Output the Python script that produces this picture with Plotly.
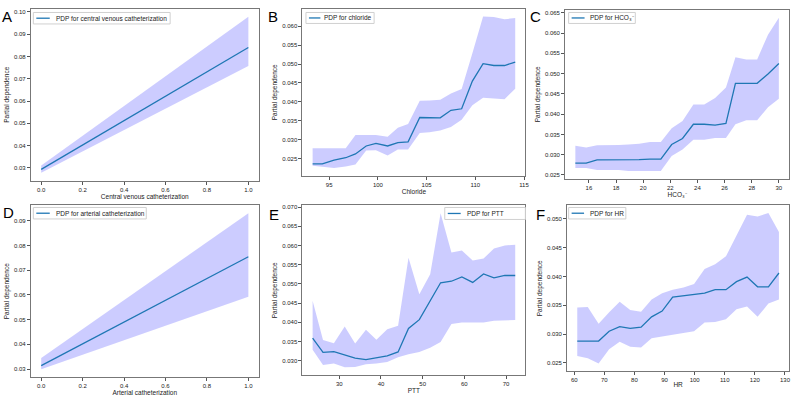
import plotly.graph_objects as go

# ---------------- data ----------------
a_x = [0.0, 1.0]
a_y = [0.0293, 0.0840]
a_lo = [0.0278, 0.0757]
a_hi = [0.0310, 0.0978]

b_x = [93.3, 94.3, 95.5, 96.7, 97.7, 98.8, 99.8, 101.0, 102.05, 103.1,
       104.3, 105.3, 106.4, 107.5, 108.6, 109.7, 110.8, 111.9, 113.0, 114.1]
b_y = [0.0237, 0.0237, 0.0247, 0.0253, 0.0263, 0.0284, 0.0291, 0.0284, 0.0293, 0.0295,
       0.0359, 0.0359, 0.0358, 0.0378, 0.0382, 0.0455, 0.0501, 0.0496, 0.0496, 0.0505]
b_hi = [0.0278, 0.0278, 0.0278, 0.0278, 0.0313, 0.0314, 0.0313, 0.0308, 0.0332, 0.0342,
        0.0403, 0.0404, 0.0406, 0.0422, 0.0434, 0.0528, 0.0625, 0.0624, 0.0618, 0.0621]
b_lo = [0.0232, 0.0230, 0.0226, 0.0230, 0.0235, 0.0272, 0.0273, 0.0259, 0.0275, 0.0275,
        0.0318, 0.0320, 0.0325, 0.0334, 0.0353, 0.0391, 0.0411, 0.0409, 0.0407, 0.0435]

c_x = [15.0, 15.8, 16.6, 17.4, 18.2, 18.9, 19.7, 20.5, 21.3, 22.1,
       22.9, 23.7, 24.5, 25.3, 26.1, 26.8, 27.6, 28.4, 29.2, 30.0]
c_y = [0.0279, 0.0279, 0.0287, 0.0287, 0.0287, 0.0287, 0.0288, 0.0289, 0.0289, 0.0325,
       0.0340, 0.0375, 0.0375, 0.0373, 0.0377, 0.0476, 0.0476, 0.0476, 0.0499, 0.0525]
c_hi = [0.0322, 0.0318, 0.0323, 0.0323, 0.0324, 0.0325, 0.0327, 0.0331, 0.0331, 0.0365,
        0.0383, 0.0424, 0.0424, 0.0440, 0.0466, 0.0540, 0.0535, 0.0535, 0.0596, 0.0638]
c_lo = [0.0267, 0.0267, 0.0262, 0.0262, 0.0262, 0.0260, 0.0260, 0.0260, 0.0260, 0.0297,
        0.0313, 0.0337, 0.0337, 0.0341, 0.0341, 0.0375, 0.0385, 0.0385, 0.0417, 0.0438]

d_x = [0.0, 1.0]
d_y = [0.0314, 0.0755]
d_lo = [0.0299, 0.0593]
d_hi = [0.0345, 0.0931]

e_x = [23.6, 26.1, 28.7, 31.3, 33.8, 36.4, 38.9, 41.5, 44.1, 46.6,
       49.2, 51.8, 54.3, 56.9, 59.4, 62.0, 64.6, 67.1, 69.7, 72.2]
e_y = [0.0359, 0.0322, 0.0324, 0.0315, 0.0307, 0.0303, 0.0307, 0.0313, 0.0323, 0.0384,
       0.0407, 0.0456, 0.0503, 0.0507, 0.0518, 0.0504, 0.0526, 0.0516, 0.0522, 0.0522]
e_hi = [0.0456, 0.0354, 0.0346, 0.0389, 0.0345, 0.0381, 0.0355, 0.0382, 0.0391, 0.0568,
        0.0473, 0.0525, 0.0684, 0.0582, 0.0587, 0.0561, 0.0566, 0.0592, 0.0600, 0.0602]
e_lo = [0.0329, 0.0289, 0.0293, 0.0283, 0.0284, 0.0291, 0.0293, 0.0297, 0.0309, 0.0317,
        0.0323, 0.0334, 0.0349, 0.0396, 0.0400, 0.0400, 0.0400, 0.0404, 0.0406, 0.0406]

f_x = [61.0, 64.5, 68.1, 71.6, 75.1, 78.6, 82.2, 85.7, 89.2, 92.7,
       96.3, 99.8, 103.3, 106.8, 110.4, 113.9, 117.4, 120.9, 124.5, 128.0]
f_y = [0.0288, 0.0288, 0.0288, 0.0305, 0.0313, 0.0310, 0.0312, 0.0330, 0.0340, 0.0364,
       0.0366, 0.0368, 0.0371, 0.0377, 0.0377, 0.0391, 0.0399, 0.0382, 0.0382, 0.0406]
f_hi = [0.0346, 0.0347, 0.0318, 0.0338, 0.0356, 0.0342, 0.0339, 0.0360, 0.0371, 0.0377,
        0.0381, 0.0387, 0.0413, 0.0421, 0.0435, 0.0470, 0.0507, 0.0504, 0.0510, 0.0477]
f_lo = [0.0262, 0.0258, 0.0249, 0.0274, 0.0287, 0.0278, 0.0277, 0.0293, 0.0296, 0.0299,
        0.0302, 0.0305, 0.0320, 0.0321, 0.0326, 0.0343, 0.0348, 0.0330, 0.0353, 0.0360]

letters = ["A", "B", "C", "D", "E", "F"]
x_titles = ["Central venous catheterization", "Chloride", "HCO₃⁻",
            "Arterial catheterization", "PTT", "HR"]
legend_names = ["PDP for central venous catheterization", "PDP for chloride", "PDP for HCO₃⁻",
                "PDP for arterial catheterization", "PDP for PTT", "PDP for HR"]
x_ticks = [[0.0, 0.2, 0.4, 0.6, 0.8, 1.0], [95, 100, 105, 110, 115], [16, 18, 20, 22, 24, 26, 28, 30],
           [0.0, 0.2, 0.4, 0.6, 0.8, 1.0], [30, 40, 50, 60, 70], [60, 70, 80, 90, 100, 110, 120, 130]]
y_ticks = [[0.03, 0.04, 0.05, 0.06, 0.07, 0.08, 0.09, 0.10],
           [0.025, 0.030, 0.035, 0.040, 0.045, 0.050, 0.055, 0.060],
           [0.025, 0.030, 0.035, 0.040, 0.045, 0.050, 0.055, 0.060, 0.065],
           [0.03, 0.04, 0.05, 0.06, 0.07, 0.08, 0.09],
           [0.030, 0.035, 0.040, 0.045, 0.050, 0.055, 0.060, 0.065, 0.070],
           [0.025, 0.030, 0.035, 0.040, 0.045, 0.050]]
x_fmt = [".1f", "d", "d", ".1f", "d", "d"]
y_fmt = [".2f", ".3f", ".3f", ".2f", ".3f", ".3f"]

panels = [(a_x, a_y, a_lo, a_hi), (b_x, b_y, b_lo, b_hi), (c_x, c_y, c_lo, c_hi),
          (d_x, d_y, d_lo, d_hi), (e_x, e_y, e_lo, e_hi), (f_x, f_y, f_lo, f_hi)]

# ---------------- layout (pixel boxes) ----------------
W, H = 800, 400
boxes = [(31, 260, 8, 180), (304, 528, 8, 175), (568, 793, 9, 178),
         (31, 260, 205, 377), (304, 528, 205, 375), (570, 793, 205, 371)]
# legend box: x0, x1, y0, y1, line x0, line x1, text x
legend_boxes = [(33.5, 171, 11.5, 23, 36.5, 50, 54),
                (307.5, 376, 11.5, 22.5, 310.5, 322, 324),
                (571.5, 638.5, 11.5, 22.5, 574.5, 587.5, 590.5),
                (33.5, 147, 207, 218.5, 36.5, 50, 54),
                (447, 528, 207, 219, 450, 463, 467),
                (571.5, 629, 207, 218.5, 574.5, 587, 590.5)]
letter_pos = [(0, 5), (267, 5), (531, 5), (1, 202), (268, 204), (537, 204)]

FONT = "Liberation Sans, Arial, sans-serif"
LINE = "#1f77b4"
FILL = "rgba(0,0,255,0.2)"

fig = go.Figure()
layout = dict(width=W, height=H, margin=dict(l=0, r=0, t=0, b=0),
              paper_bgcolor="white", plot_bgcolor="white",
              font=dict(family=FONT, size=6, color="#222"),
              showlegend=False, annotations=[], shapes=[])


def px_x(v):
    return v / W


def px_y(v):
    return 1 - v / H


for i, (xs, ys, lo, hi) in enumerate(panels):
    n = i + 1
    sfx = "" if n == 1 else str(n)
    xa, ya = "x" + sfx, "y" + sfx
    fig.add_trace(go.Scatter(x=xs, y=lo, mode="lines", line=dict(width=0, color=FILL),
                             showlegend=False, hoverinfo="skip", xaxis=xa, yaxis=ya))
    fig.add_trace(go.Scatter(x=xs, y=hi, mode="lines", line=dict(width=0, color=FILL),
                             fill="tonexty", fillcolor=FILL, showlegend=False,
                             hoverinfo="skip", xaxis=xa, yaxis=ya))
    fig.add_trace(go.Scatter(x=xs, y=ys, mode="lines", line=dict(width=1.3, color=LINE),
                             name=legend_names[i], showlegend=False,
                             xaxis=xa, yaxis=ya))

    x0, x1, y0, y1 = boxes[i]
    xmin, xmax = min(xs), max(xs)
    ymin, ymax = min(lo), max(hi)
    xp = 0.05 * (xmax - xmin)
    yp = 0.05 * (ymax - ymin)
    axcommon = dict(showgrid=False, zeroline=False, showline=True, mirror=True,
                    linecolor="#777", linewidth=1, ticks="outside", ticklen=3,
                    tickcolor="#555", tickwidth=0.8, tickfont=dict(size=6, color="#222"))
    layout["xaxis" + sfx] = dict(axcommon, domain=[x0 / W, x1 / W], anchor=ya,
                                 range=[xmin - xp, xmax + xp], tickvals=x_ticks[i],
                                 tickformat=x_fmt[i],
                                 title=dict(text=x_titles[i], font=dict(size=6.5), standoff=0))
    layout["yaxis" + sfx] = dict(axcommon, domain=[1 - y1 / H, 1 - y0 / H], anchor=xa,
                                 range=[ymin - yp, ymax + yp], tickvals=y_ticks[i],
                                 tickformat=y_fmt[i],
                                 title=dict(text="Partial dependence", font=dict(size=6.5), standoff=3))

    # legend (box, line sample, label)
    bx0, bx1, by0, by1, lx0, lx1, tx = legend_boxes[i]
    ym = (by0 + by1) / 2
    layout["shapes"].append(dict(type="rect", xref="paper", yref="paper", layer="above",
                                 x0=px_x(bx0), x1=px_x(bx1), y0=px_y(by1), y1=px_y(by0),
                                 fillcolor="white", line=dict(color="#d0d0d0", width=1)))
    layout["shapes"].append(dict(type="line", xref="paper", yref="paper", layer="above",
                                 x0=px_x(lx0), x1=px_x(lx1), y0=px_y(ym), y1=px_y(ym),
                                 line=dict(color=LINE, width=1.3)))
    layout["annotations"].append(dict(text=legend_names[i], x=px_x(tx), y=px_y(ym),
                                      xref="paper", yref="paper", xanchor="left",
                                      yanchor="middle", showarrow=False,
                                      font=dict(size=6.5, color="#222", family=FONT)))

    px, py = letter_pos[i]
    layout["annotations"].append(dict(text=letters[i], x=px / W, y=1 - py / H,
                                      xref="paper", yref="paper", xanchor="left",
                                      yanchor="top", showarrow=False,
                                      font=dict(size=15, color="black", family=FONT)))

fig.update_layout(**layout)
fig.write_html("out.html")
